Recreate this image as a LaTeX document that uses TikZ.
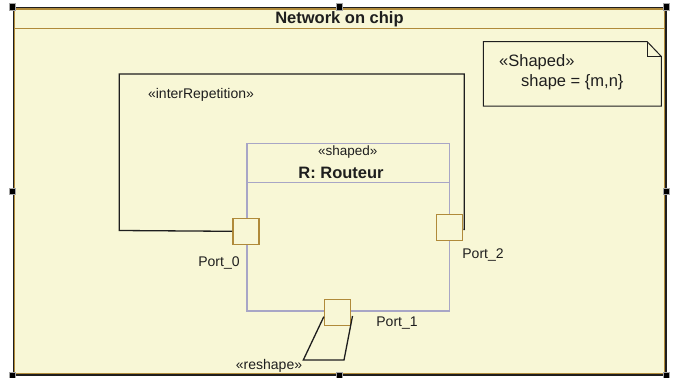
\documentclass[tikz,border=0pt]{standalone}
\usepackage{fontspec}
\setmainfont{Liberation Sans}
\usetikzlibrary{calc}
\definecolor{bg}{RGB}{248,247,214}
\definecolor{gold}{RGB}{176,138,58}
\definecolor{lav}{RGB}{168,166,198}
\definecolor{ink}{RGB}{30,30,30}
\begin{document}
\begin{tikzpicture}[x=1pt,y=-1pt,
  port/.style={rectangle,draw=gold,fill=bg,line width=1.4pt,minimum size=26pt,inner sep=0pt},
  wire/.style={draw=ink,line width=1.3pt},
  lbl/.style={inner sep=0pt,font=\fontsize{14}{16}\selectfont,text=ink},
  handle/.style={rectangle,fill=black,draw=black!35,line width=0.6pt,minimum size=6.5pt,inner sep=0pt},
]
\useasboundingbox (0,0) rectangle (681,378);
\fill[white] (0,0) rectangle (681,378);
% frame
\node[rectangle,fill=bg,draw=ink,line width=2pt,minimum width=652pt,minimum height=366.5pt,inner sep=0pt] (noc) at (339.5,191.25) {};
\draw[gold,line width=1.3pt] ($(noc.north west)+(2,2)$) rectangle ($(noc.south east)+(-2,-2)$);
\draw[gold,line width=1.3pt] ($(noc.north west)+(2,21.3)$) -- ($(noc.north east)+(-2,21.3)$);
\node[inner sep=0pt,font=\fontsize{16.5}{18}\selectfont\bfseries,text=ink] (title) at (339.5,19) {Network on chip};
% note
\node[rectangle,fill=bg,minimum width=177.7pt,minimum height=64.3pt,inner sep=0pt] (note) at (572.3,73.85) {};
\draw[ink,line width=1pt] (note.north west) -- ($(note.north east)+(-14.3,0)$) -- ($(note.north east)+(0,15)$) -- (note.south east) -- (note.south west) -- cycle;
\draw[ink,line width=1pt] ($(note.north east)+(-14.3,0)$) -- ($(note.north east)+(-14.3,15)$) -- ($(note.north east)+(0,15)$);
\node[inner sep=0pt,anchor=west,font=\fontsize{16.5}{18}\selectfont,text=ink] (nst) at (499,62.3) {«Shaped»};
\node[inner sep=0pt,anchor=west,font=\fontsize{16.5}{18}\selectfont,text=ink] (nsh) at (521,82.7) {shape = \{m,n\}};
% router
\node[rectangle,fill=bg,draw=lav,line width=1.4pt,minimum width=202.3pt,minimum height=167.7pt,inner sep=0pt] (r) at (348.2,227.2) {};
\draw[lav,line width=1.4pt] ($(r.north west)+(0,40)$) -- ($(r.north east)+(0,40)$);
\node[lbl,font=\fontsize{13.5}{15}\selectfont] (st) at (347.7,152) {«shaped»};
\node[inner sep=0pt,font=\fontsize{16.5}{18}\selectfont\bfseries,text=ink] (rn) at (341,173.3) {R: Routeur};
% ports
\node[port] (p0) at (245.9,231.3) {};
\node[port] (p2) at (449.7,227.2) {};
\node[port] (p1) at (337.5,312.3) {};
\node[lbl] (l0) at (219,263) {Port\_0};
\node[lbl] (l2) at (483,255) {Port\_2};
\node[lbl] (l1) at (397,323.5) {Port\_1};
% interRepetition connector
\coordinate (a1) at (119.3,230.5);
\coordinate (a2) at (119.3,74);
\coordinate (a3) at (464.3,74);
\coordinate (a4) at (464.3,229.5);
\draw[wire] (p0.west) -- (a1) -- (a2) -- (a3) -- (a4) -- (p2.east |- a4);
\node[lbl] (ir) at (201,95) {«interRepetition»};
% reshape connector
\coordinate (b1) at (303.3,360);
\coordinate (b2) at (344,360);
\draw[wire] ($(p1.west)+(0,4.4)$) -- (b1) -- (b2) -- ($(p1.east)+(1.3,3.7)$);
\node[lbl] (rs) at (269,366) {«reshape»};
% selection handles
\foreach \a in {north west,north,north east,east,south east,south,south west,west}
  \node[handle] at (noc.\a) {};
\end{tikzpicture}
\end{document}
